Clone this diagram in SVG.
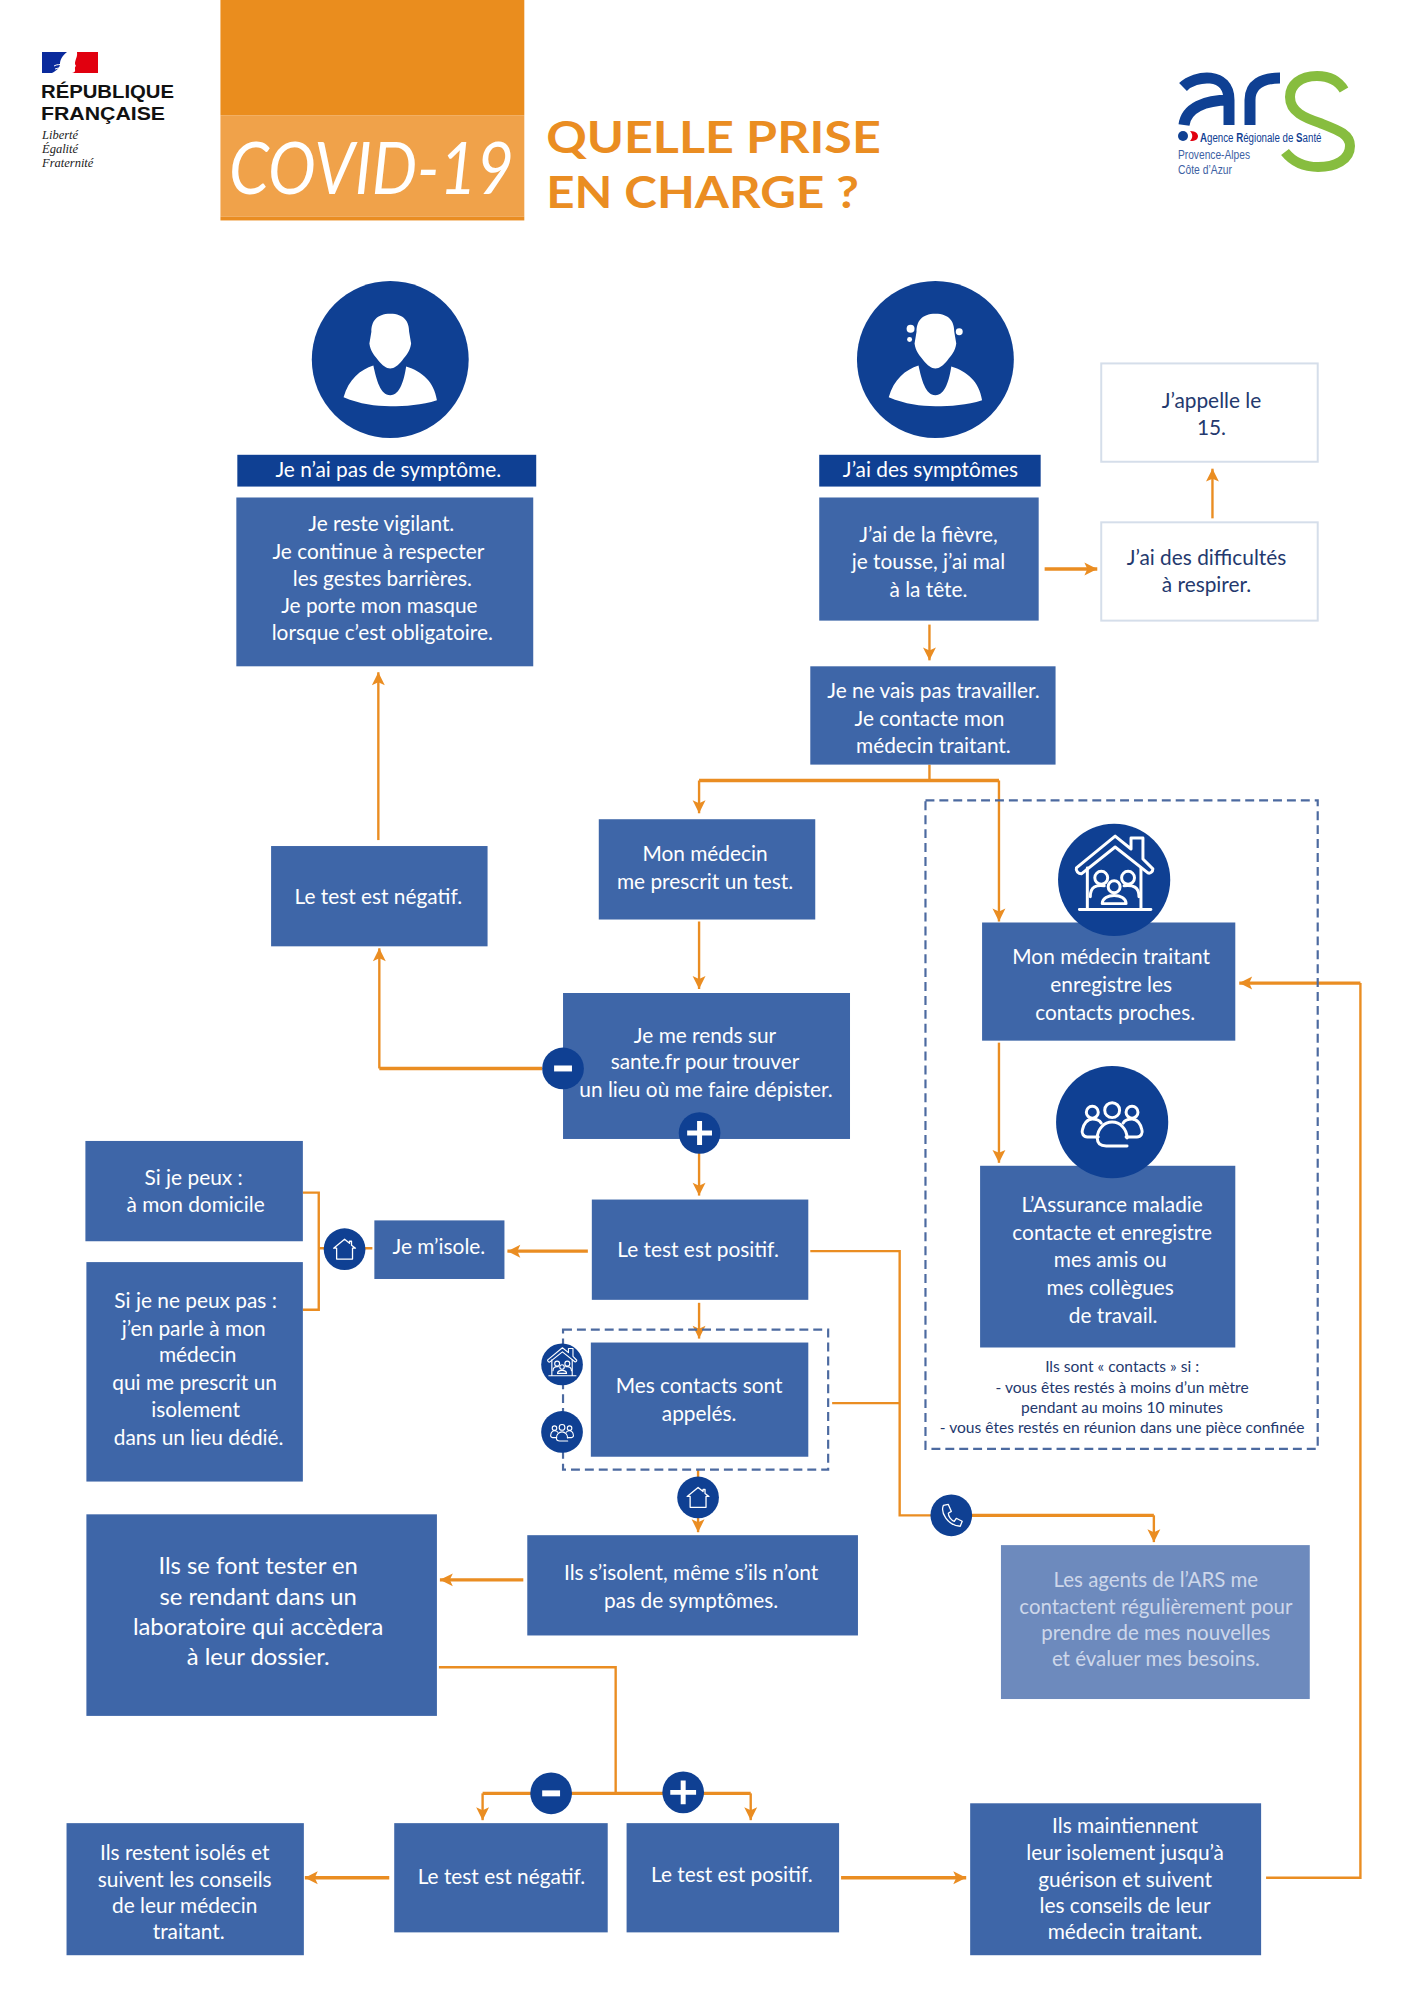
<svg xmlns="http://www.w3.org/2000/svg" xmlns:xlink="http://www.w3.org/1999/xlink" width="1414" height="2000" viewBox="0 0 1414 2000">
<style>
text{font-family:Lato,"Open Sans","Liberation Sans",sans-serif;text-anchor:middle}
.b{fill:#3e66a8}
.d{fill:#0f4093}
.w{fill:#fff;stroke:#d5deea;stroke-width:2}
.t{fill:#fff;font-size:21px}
.l{font-size:24px}
.n{fill:#24396e;font-size:21px}
.s{fill:#24396e;font-size:15.700px}
.a{fill:#cdd7ea;font-size:20.600px}
.c{fill:none;stroke:#ea8d22;stroke-width:2.400}
.k{fill:none;stroke:#ea8d22;stroke-width:3.400}
.dash{fill:none;stroke:#4c6aa0;stroke-width:2.200;stroke-dasharray:9 5}
.i{fill:none;stroke:#fff;stroke-width:3;stroke-linecap:round;stroke-linejoin:round}
.f{fill:#fff}
.tit{fill:#ea8d22;font-size:44px;font-weight:700;text-anchor:start}
.rf{fill:#111;font-size:19px;font-weight:700;text-anchor:start;font-family:"Liberation Sans",sans-serif}
.dv{fill:#222;font-size:12.500px;font-style:italic;text-anchor:start;font-family:"Liberation Serif",serif}
.ag{font-family:"Liberation Sans",sans-serif;font-size:13.500px;fill:#3d5fa3;text-anchor:start}
</style>
<defs>
<marker id="ah" markerUnits="userSpaceOnUse" markerWidth="16" markerHeight="16" viewBox="0 0 16 16" refX="14" refY="8" orient="auto"><path d="M1 1.500L14 8L1 14.500L4 8Z" fill="#ea8d22"/></marker>
<g id="pm"><path class="f" d="M0 -46C-14 -46 -19 -38 -19 -28L-21 -16C-20 -8 -16 -4 -12 1C-8 6 -4 9 0 9C4 9 8 6 12 1C16 -4 20 -8 21 -16L19 -28C19 -38 14 -46 0 -46Z"/><path class="f" d="M-17 6C-30 10 -42 20 -47 38C-30 45 -15 47 0 47C15 47 32 46 47 41C44 22 32 12 16 7C14 20 10 36 0 36C-10 36 -14 20 -17 6Z"/></g>
<g id="homefam" class="i"><path d="M-38 -12L1 -44L17 -31V-42H29V-21L39 -11C39 -8 36 -6 34 -7L1 -33L-33 -6C-36 -6 -39 -9 -38 -12Z"/><path d="M-27 -12V30M27 -12V30M-35 30H37"/><circle cx="0" cy="7" r="6"/><path d="M-12 24C-12 13 12 13 12 24Z"/><circle cx="-13" cy="-2" r="6.500"/><circle cx="14" cy="-2" r="6.500"/><path d="M-24 17C-24 7 -18 5 -10 6M25 17C25 7 19 5 10 6"/></g>
<g id="team" class="i"><circle cx="0" cy="-12" r="7.500"/><circle cx="-20" cy="-10" r="6"/><circle cx="20" cy="-10" r="6"/><path d="M15 24H-6C-12 24 -15 21 -15 16C-15 7 -8 0 0 0C8 0 15 7 15 16"/><path d="M-14 15H-25C-29 15 -31 11 -30 8C-29 2 -25 -3 -20 -3C-16 -3 -13 -2 -11 1M14 15H25C29 15 31 11 30 8C29 2 25 -3 20 -3C16 -3 13 -2 11 1"/></g>
<path id="home" d="M-8 10V-1H-11L0 -10L5 -6V-8H7V-4L11 -1H8V10Z" fill="none" stroke="#fff" stroke-width="1.300" stroke-linejoin="round"/>
</defs>
<rect width="1414" height="2000" fill="#fff"/>

<g id="logo-rf">
<path d="M42 52H67C62 56 60 60 60 64C60 68 56 71 52 73H42Z" fill="#0a2a9c"/>
<path d="M54 66C57 64 60 65 63 64M55 69C58 68 60 68 62 67" fill="none" stroke="#fff" stroke-width="1"/>
<path d="M77 52H98V73H72C78 72 73 68 76 66C73 62 78 58 77 52Z" fill="#e1000f"/>
<text class="rf" x="41" y="98" textLength="133" lengthAdjust="spacingAndGlyphs">RÉPUBLIQUE</text>
<text class="rf" x="41" y="120" textLength="124" lengthAdjust="spacingAndGlyphs">FRANÇAISE</text>
<text class="dv" x="42" y="139">Liberté</text>
<text class="dv" x="42" y="153">Égalité</text>
<text class="dv" x="42" y="167">Fraternité</text>
</g>
<g id="logo-ars">
<path d="M1183 87C1195 75 1229 71 1229 100V125M1184 125C1186 108 1205 100 1229 100M1250 125V100C1250 84 1262 78 1280 78" fill="none" stroke="#0f4093" stroke-width="11"/>
<path d="M1344 90C1338 80 1328 76 1317 76C1300 76 1290 85 1290 97C1290 112 1305 118 1320 123C1338 130 1350 134 1350 146C1350 160 1335 167 1318 167C1305 167 1293 162 1285 152" fill="none" stroke="#87bd3f" stroke-width="10"/>
<circle cx="1183" cy="136" r="5" fill="#0f4093"/>
<path d="M1190 131C1196 131 1198 134 1198 136C1198 139 1196 141 1190 141C1193 138 1193 134 1190 131Z" fill="#e1000f"/>
<text class="ag" transform="translate(1200 142) scale(.72 1)" style="fill:#0f4093"><tspan font-weight="700">A</tspan>gence <tspan font-weight="700">R</tspan>égionale de <tspan font-weight="700">S</tspan>anté</text>
<text class="ag" x="1178" y="159" textLength="72" lengthAdjust="spacingAndGlyphs">Provence-Alpes</text>
<text class="ag" x="1178" y="174" textLength="54" lengthAdjust="spacingAndGlyphs">Côte d’Azur</text>
</g>

<g id="diagram" transform="scale(.993)">
<g id="connectors">
<path class="c" d="M936 770V786"/>
<path class="k" d="M704 786H1006"/>
<path class="c" d="M704 786V819" marker-end="url(#ah)"/>
<path class="c" d="M1006 786V928" marker-end="url(#ah)"/>
<path class="k" d="M1052 573H1105" marker-end="url(#ah)"/>
<path class="c" d="M1221 522V472" marker-end="url(#ah)"/>
<path class="c" d="M936 629V665" marker-end="url(#ah)"/>
<path class="c" d="M381 846V677" marker-end="url(#ah)"/>
<path class="c" d="M704 928V996" marker-end="url(#ah)"/>
<path class="k" d="M546 1076H382"/>
<path class="c" d="M382 1076V955" marker-end="url(#ah)"/>
<path class="c" d="M704 1150V1204" marker-end="url(#ah)"/>
<path class="c" d="M305 1201H321V1319H305M321 1257H340M365 1257H375"/>
<path class="k" d="M592 1260H511" marker-end="url(#ah)"/>
<path class="c" d="M816 1260H906V1526H958"/>
<path class="k" d="M958 1526H1162"/>
<path class="c" d="M1162 1526V1553" marker-end="url(#ah)"/>
<path class="c" d="M838 1413H906"/>
<path class="c" d="M704 1312V1348" marker-end="url(#ah)"/>
<path class="c" d="M703 1480V1543" marker-end="url(#ah)"/>
<path class="k" d="M527 1591H443" marker-end="url(#ah)"/>
<path class="c" d="M442 1679H620V1806"/>
<path class="k" d="M486 1806H756"/>
<path class="c" d="M486 1806V1833" marker-end="url(#ah)"/>
<path class="c" d="M756 1806V1833" marker-end="url(#ah)"/>
<path class="k" d="M392 1891H307" marker-end="url(#ah)"/>
<path class="k" d="M847 1891H973" marker-end="url(#ah)"/>
<path class="c" d="M1275 1891H1370V990"/>
<path class="k" d="M1370 990H1248" marker-end="url(#ah)"/>
<path class="c" d="M1006 1050V1171" marker-end="url(#ah)"/>
</g>

<g id="header">
<rect x="222" y="0" width="306" height="116" fill="#ea8d1e"/>
<rect x="222" y="116" width="306" height="102" fill="#f0a24a"/>
<rect x="222" y="218" width="306" height="4" fill="#ea8d22"/>
<text x="374" y="195" fill="#fff" font-size="72" font-style="italic" textLength="287" lengthAdjust="spacingAndGlyphs">COVID-19</text>
<text class="tit" x="550" y="154" textLength="337" lengthAdjust="spacingAndGlyphs">QUELLE PRISE</text>
<text class="tit" x="550" y="209" textLength="315" lengthAdjust="spacingAndGlyphs">EN CHARGE ?</text>
</g>

<g id="person-ok"><circle class="d" cx="393" cy="362" r="79"/><use xlink:href="#pm" href="#pm" x="393" y="362"/></g>
<g id="person-sick"><circle class="d" cx="942" cy="362" r="79"/><use xlink:href="#pm" href="#pm" x="942" y="362"/><circle class="f" cx="917" cy="331" r="4"/><circle class="f" cx="916" cy="342" r="2.500"/><circle class="f" cx="966" cy="334" r="3.500"/></g>

<g id="n1"><rect class="d" x="239" y="458" width="301" height="32"/><text class="t" x="391" y="480">Je n’ai pas de symptôme.</text></g>
<g id="n2"><rect class="b" x="238" y="501" width="299" height="170"/><text class="t"><tspan x="384" y="535">Je reste vigilant.</tspan><tspan x="381" y="563">Je continue à respecter</tspan><tspan x="385" y="590">les gestes barrières.</tspan><tspan x="382" y="617">Je porte mon masque</tspan><tspan x="385" y="645">lorsque c’est obligatoire.</tspan></text></g>
<g id="n3"><rect class="d" x="825" y="458" width="223" height="32"/><text class="t" x="937" y="480">J’ai des symptômes</text></g>
<g id="n4"><rect class="b" x="825" y="501" width="221" height="124"/><text class="t"><tspan x="935" y="546">J’ai de la fièvre,</tspan><tspan x="935" y="573">je tousse, j’ai mal</tspan><tspan x="935" y="601">à la tête.</tspan></text></g>
<g id="n5"><rect class="w" x="1109" y="366" width="218" height="99"/><text class="n"><tspan x="1220" y="411">J’appelle le</tspan><tspan x="1220" y="438">15.</tspan></text></g>
<g id="n6"><rect class="w" x="1109" y="526" width="218" height="99"/><text class="n"><tspan x="1215" y="569">J’ai des difficultés</tspan><tspan x="1215" y="596">à respirer.</tspan></text></g>
<g id="n7"><rect class="b" x="816" y="671" width="247" height="99"/><text class="t"><tspan x="940" y="703">Je ne vais pas travailler.</tspan><tspan x="936" y="731">Je contacte mon</tspan><tspan x="940" y="758">médecin traitant.</tspan></text></g>
<g id="n8"><rect class="b" x="603" y="825" width="218" height="101"/><text class="t"><tspan x="710" y="867">Mon médecin</tspan><tspan x="710" y="895">me prescrit un test.</tspan></text></g>
<g id="n9"><rect class="b" x="273" y="852" width="218" height="101"/><text class="t" x="381" y="910">Le test est négatif.</text></g>
<g id="n10"><rect class="b" x="567" y="1000" width="289" height="147"/><text class="t"><tspan x="710" y="1050">Je me rends sur</tspan><tspan x="710" y="1077">sante.fr pour trouver</tspan><tspan x="711" y="1105">un lieu où me faire dépister.</tspan></text></g>
<g id="minus1"><circle class="d" cx="567" cy="1076" r="21"/><rect class="f" x="558" y="1073" width="18" height="6"/></g>
<g id="plus1"><circle class="d" cx="704.500" cy="1141" r="21"/><path d="M692 1141H717M704.500 1129V1153" stroke="#fff" stroke-width="5"/></g>
<g id="n11"><rect class="b" x="86" y="1149" width="219" height="101"/><text class="t"><tspan x="195" y="1193">Si je peux :</tspan><tspan x="197" y="1221">à mon domicile</tspan></text></g>
<g id="n12"><rect class="b" x="87" y="1271" width="218" height="221"/><text class="t"><tspan x="197" y="1317">Si je ne peux pas :</tspan><tspan x="195" y="1345">j’en parle à mon</tspan><tspan x="199" y="1372">médecin</tspan><tspan x="196" y="1400">qui me prescrit un</tspan><tspan x="197" y="1427">isolement</tspan><tspan x="200" y="1455">dans un lieu dédié.</tspan></text></g>
<g id="home1"><circle class="d" cx="347" cy="1258" r="21"/><use xlink:href="#home" href="#home" x="347" y="1258"/></g>
<g id="n13"><rect class="b" x="377" y="1229" width="131" height="59"/><text class="t" x="442" y="1263">Je m’isole.</text></g>
<g id="n14"><rect class="b" x="596" y="1208" width="218" height="101"/><text class="t" x="703" y="1266">Le test est positif.</text></g>
<g id="dash-contacts"><rect class="dash" x="567" y="1339" width="267" height="141"/></g>
<g id="n15"><rect class="b" x="595" y="1352" width="219" height="115"/><text class="t"><tspan x="704" y="1403">Mes contacts sont</tspan><tspan x="704" y="1431">appelés.</tspan></text></g>
<g id="icon-homefam-small"><circle class="d" cx="566" cy="1374" r="21"/><use xlink:href="#homefam" href="#homefam" transform="translate(566 1374) scale(.38)"/></g>
<g id="icon-team-small"><circle class="d" cx="566" cy="1442" r="21"/><use xlink:href="#team" href="#team" transform="translate(566 1442) scale(.38)"/></g>
<g id="home2"><circle class="d" cx="703" cy="1508" r="21"/><use xlink:href="#home" href="#home" x="703" y="1508"/></g>
<g id="phone"><circle class="d" cx="958" cy="1526" r="21"/><path d="M950 1516C947 1523 954 1536 967 1537L969 1532L963 1529L961 1532C958 1531 955 1527 955 1524L958 1522L955 1515Z" fill="none" stroke="#fff" stroke-width="1.300" stroke-linejoin="round"/></g>

<g id="dash-big"><rect class="dash" x="932" y="806" width="395" height="653"/></g>
<g id="n16"><rect class="b" x="989" y="929" width="255" height="119"/><text class="t"><tspan x="1119" y="971">Mon médecin traitant</tspan><tspan x="1119" y="999">enregistre les</tspan><tspan x="1123" y="1027">contacts proches.</tspan></text></g>
<g id="icon-homefam"><circle class="d" cx="1122" cy="886" r="56.500"/><use xlink:href="#homefam" href="#homefam" x="1122" y="886"/></g>
<g id="n17"><rect class="b" x="987" y="1174" width="257" height="183"/><text class="t"><tspan x="1120" y="1221">L’Assurance maladie</tspan><tspan x="1120" y="1249">contacte et enregistre</tspan><tspan x="1118" y="1276">mes amis ou</tspan><tspan x="1118" y="1304">mes collègues</tspan><tspan x="1121" y="1332">de travail.</tspan></text></g>
<g id="icon-team"><circle class="d" cx="1120" cy="1130" r="56.500"/><use xlink:href="#team" href="#team" x="1120" y="1130"/></g>
<g id="note"><text class="s"><tspan x="1130" y="1382">Ils sont « contacts » si :</tspan><tspan x="1130" y="1403">- vous êtes restés à moins d’un mètre</tspan><tspan x="1130" y="1423">pendant au moins 10 minutes</tspan><tspan x="1130" y="1443">- vous êtes restés en réunion dans une pièce confinée</tspan></text></g>

<g id="n20"><rect class="b" x="531" y="1546" width="333" height="101"/><text class="t"><tspan x="696" y="1591">Ils s’isolent, même s’ils n’ont</tspan><tspan x="696" y="1619">pas de symptômes.</tspan></text></g>
<g id="n21"><rect class="b" x="87" y="1525" width="353" height="203"/><text class="t l"><tspan x="260" y="1585">Ils se font tester en</tspan><tspan x="260" y="1616">se rendant dans un</tspan><tspan x="260" y="1647">laboratoire qui accèdera</tspan><tspan x="260" y="1677">à leur dossier.</tspan></text></g>
<g id="n22"><rect x="1008" y="1556" width="311" height="155" fill="#6d8abd"/><text class="a"><tspan x="1164" y="1598">Les agents de l’ARS me</tspan><tspan x="1164" y="1625">contactent régulièrement pour</tspan><tspan x="1164" y="1652">prendre de mes nouvelles</tspan><tspan x="1164" y="1678">et évaluer mes besoins.</tspan></text></g>
<g id="minus2"><circle class="d" cx="555" cy="1806" r="21"/><rect class="f" x="546" y="1803" width="18" height="6"/></g>
<g id="plus2"><circle class="d" cx="688" cy="1805" r="21"/><path d="M675 1805H701M688 1793V1817" stroke="#fff" stroke-width="5"/></g>
<g id="n23"><rect class="b" x="397" y="1836" width="215" height="110"/><text class="t" x="505" y="1897">Le test est négatif.</text></g>
<g id="n24"><rect class="b" x="631" y="1836" width="214" height="110"/><text class="t" x="737" y="1895">Le test est positif.</text></g>
<g id="n25"><rect class="b" x="67" y="1836" width="239" height="133"/><text class="t"><tspan x="186" y="1873">Ils restent isolés et</tspan><tspan x="186" y="1900">suivent les conseils</tspan><tspan x="186" y="1926">de leur médecin</tspan><tspan x="190" y="1953">traitant.</tspan></text></g>
<g id="n26"><rect class="b" x="977" y="1816" width="293" height="153"/><text class="t"><tspan x="1133" y="1846">Ils maintiennent</tspan><tspan x="1133" y="1873">leur isolement jusqu’à</tspan><tspan x="1133" y="1900">guérison et suivent</tspan><tspan x="1133" y="1926">les conseils de leur</tspan><tspan x="1133" y="1953">médecin traitant.</tspan></text></g>
</g>
</svg>
